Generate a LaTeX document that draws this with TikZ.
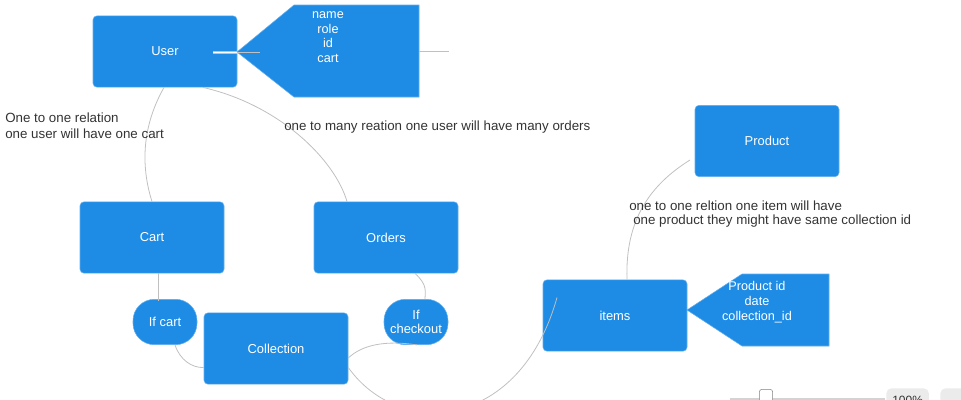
\documentclass[tikz,border=0pt]{standalone}
\usepackage{fontspec}
\setmainfont{Liberation Sans}
\definecolor{boxblue}{RGB}{30,139,229}
\definecolor{linegrey}{RGB}{192,192,192}
\definecolor{textgrey}{RGB}{51,51,51}
\tikzset{
    entity/.style={rectangle, rounded corners=3pt, fill=boxblue, draw=boxblue!70!white, text=white,
        minimum width=108pt, minimum height=53.5pt, font=\fontsize{9.7}{11}\selectfont},
    cond/.style={rectangle, rounded corners=16pt, fill=boxblue, draw=boxblue!70!white, text=white,
        minimum width=48pt, minimum height=34pt, inner sep=1pt, align=center,
        font=\fontsize{9.7}{11}\selectfont},
    attrs/.style={fill=boxblue, draw=boxblue!70!white},
    attrtext/.style={text=white, align=center, inner sep=0pt, font=\fontsize{9.5}{11}\selectfont},
    note/.style={anchor=west, align=left, text=textgrey, inner sep=0pt, font=\fontsize{10}{12}\selectfont},
    link/.style={draw=linegrey, line width=0.6pt}
}
\begin{document}
\begin{tikzpicture}[x=0.75pt, y=-0.75pt]
    \useasboundingbox (0,0) rectangle (961,400);
    \clip (0,0) rectangle (961,400);

    % entities
    \node[entity] (user) at (165,51.5) {User};
    \node[entity] (cart) at (152,237.5) {Cart};
    \node[entity] (orders) at (386,237.5) {Orders};
    \node[entity] (collection) at (276,348.5) {Collection};
    \node[entity] (items) at (615,315.5) {items};
    \node[entity] (product) at (767,141) {Product};

    % conditions
    \node[cond] (ifcart) at (165,322) {If cart};
    \node[cond] (ifcheckout) at (416,322) {If\\checkout};

    % attribute callouts
    \draw[attrs] (237,52) -- (294,5) -- (419,5) -- (419,97) -- (294,97) -- cycle;
    \node[attrtext] (userattr) at (328,37) {name\\role\\id\\cart};
    \draw[attrs] (687,310) -- (742,274) -- (829,274) -- (829,346) -- (742,346) -- cycle;
    \node[attrtext] (itemattr) at (757,302) {Product id\\date\\collection\_id};

    % connectors
    \coordinate (uattrin) at (213,52.5);
    \coordinate (uattrtip) at (237,52.5);
    \coordinate (uattrend) at (260,52.5);
    \coordinate (uattrout) at (419,51);
    \coordinate (uattrfree) at (449,51);
    \draw[link, double=white, double distance=1.2pt] (uattrin) -- (uattrtip);
    \draw[link] (uattrtip) -- (uattrend);
    \draw[link] (uattrout) -- (uattrfree);

    \coordinate (cartout) at (158,273);
    \coordinate (ifcartin) at (158,301);

    \draw[link] (user.south) ++(-1,0) .. controls (140,130) and (142,170) .. (cart.north);
    \draw[link] (user.south) ++(38,0) .. controls (280,105) and (335,160) .. ([xshift=-39*0.75pt]orders.north);
    \draw[link] (cartout) -- (ifcartin);
    \draw[link] ([xshift=29*0.75pt]orders.south) .. controls (428,285) and (425,292) .. ([xshift=9*0.75pt]ifcheckout.north);
    \draw[link] ([xshift=10*0.75pt]ifcart.south) .. controls (180,360) and (192,368) .. ([yshift=-19*0.75pt]collection.west);
    \draw[link] ([xshift=1*0.75pt]ifcheckout.south) .. controls (385,340) and (362,345) .. ([yshift=-9.5*0.75pt]collection.east);
    \draw[link] ([yshift=-19*0.75pt]collection.east) .. controls (400,440) and (520,430) .. ([xshift=-58*0.75pt, yshift=18*0.75pt]items.center);
    \draw[link] ([xshift=12*0.75pt]items.north) .. controls (625,220) and (650,185) .. ([xshift=-77*0.75pt, yshift=-19*0.75pt]product.center);

    % relation notes
    \node[note] (noteone) at (5,126) {One to one relation\\one user will have one cart};
    \node[note] (notemany) at (284,127) {one to many reation one user will have many orders};
    \node[note, font=\fontsize{10}{10.6}\selectfont] (noteitem) at (629,214) {one to one reltion one item will have\\\hspace{3pt}one product they might have same collection id};

    % zoom bar
    \coordinate (barstart) at (730,399);
    \coordinate (barend) at (885,399);
    \draw[draw=linegrey!70!white, line width=2pt] (barstart) -- (barend);
    \node[rectangle, rounded corners=2pt, fill=white, draw=gray, minimum width=10pt, minimum height=10pt, inner sep=0pt] (knob) at (766,396) {};
    \node[rectangle, rounded corners=4pt, fill=black!8, minimum width=32pt, minimum height=18pt, inner sep=0pt, anchor=north west, text=textgrey, font=\fontsize{9}{10}\selectfont] (zoomlevel) at (886,388) {\raisebox{-6pt}{100\%}};
    \node[rectangle, rounded corners=4pt, fill=black!8, minimum width=20pt, minimum height=18pt, inner sep=0pt, anchor=north west] (fitbtn) at (940,388) {};
\end{tikzpicture}
\end{document}
